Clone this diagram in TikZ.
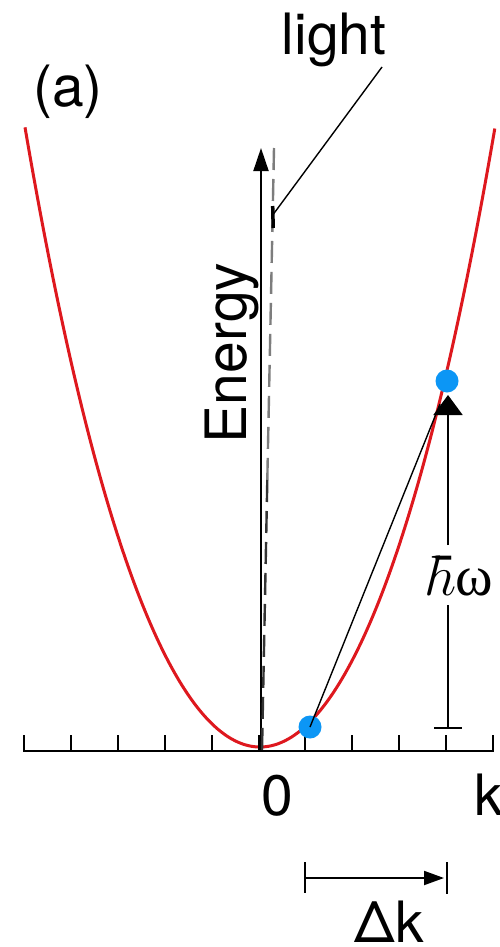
\RequirePackage{fix-cm}
\documentclass[tikz,border=0pt]{standalone}
\usepackage{fontspec}
\setmainfont{TeX Gyre Heros}
\newfontfamily\greekserif{Liberation Serif}
\usetikzlibrary{arrows.meta,calc}
\definecolor{curvered}{RGB}{222,24,30}
\definecolor{dotblue}{RGB}{12,150,245}
\definecolor{lightgray}{RGB}{125,125,125}
\begin{document}
\begin{tikzpicture}[x=1pt,y=-1pt,
  lbl/.style={inner sep=0pt, font=\fontsize{57}{60}\selectfont},
  axisline/.style={line width=2pt},
  thinline/.style={line width=1.4pt},
  lightdash/.style={line width=2.4pt, dash pattern=on 22pt off 9pt},
  dotstyle/.style={circle, fill=dotblue, minimum size=23pt, inner sep=0pt}]
\useasboundingbox (0,0) rectangle (500,947);
\fill[white] (0,0) rectangle (500,947);
% dispersion curve
\draw[curvered, line width=3pt, line join=round]
  plot[domain=-2.35:2.35, samples=140, smooth]
  ({260+100*\x}, {747-100*(\x)*(\x)-2.21*(\x)*(\x)*(\x)*(\x)});
% k axis with ticks
\coordinate (xl) at (23,751);
\coordinate (xr) at (494,751);
\draw[axisline] (xl) -- (xr);
\foreach \i in {0,...,10}
  \draw[axisline] ({24+46.9*\i},751) -- ++(0,-16);
% energy axis
\coordinate (o) at (261,751);
\coordinate (etop) at (261,148);
\draw[axisline, -{Triangle[length=23pt,width=15pt]}] (o) -- (etop);
% light line
\coordinate (lb) at (262,751);
\coordinate (lmid) at (267.3,480);
\coordinate (lt) at (274,148);
\draw[lightgray, lightdash] (lt) -- (lmid);
\draw[black!80, lightdash] (lmid) -- (lb);
\coordinate (lm1) at (272.7,206);
\coordinate (lm2) at (273.2,228);
\draw[line width=3.5pt] (lm1) -- (lm2);
\coordinate (lead) at (273.5,214);
\node[lbl] (light) at (334,40) {light};
\coordinate (leadtop) at (382,67);
\draw[thinline] (leadtop) -- (lead);
% labels
\node[lbl] (lab) at (68,92) {(a)};
\node[lbl, rotate=90, anchor=base] (energy) at (246,353) {Energy};
\node[lbl, anchor=base] (zero) at (277.5,815) {0};
\node[lbl, anchor=base west] (kk) at (474,815) {k};
% transition
\node[dotstyle] (d1) at (310,727) {};
\node[dotstyle] (d2) at (447,381) {};
\coordinate (hwbase) at (448,728);
\coordinate (hwtip) at (448,395);
\node[lbl, anchor=base west] (hw) at (434,595) {$\hbar$\kern-1pt{\greekserif ω}};
\draw[axisline] ($(hwbase)+(-14,0)$) -- ($(hwbase)+(14,0)$);
\draw[axisline] (hwbase) -- (hwbase |- 0,605);
\draw[axisline, -{Triangle[length=20pt,width=29pt]}] (hwbase |- 0,545) -- (hwtip);
\coordinate (diagend) at (440,404);
\draw[thinline] (d1.center) -- (diagend);
% delta k
\coordinate (dkl) at (305,878);
\coordinate (dkr) at (447,878);
\draw[axisline] ($(dkl)+(0,-16)$) -- ($(dkl)+(0,15)$);
\draw[axisline] ($(dkr)+(0,-16)$) -- ($(dkr)+(0,16)$);
\draw[axisline, -{Triangle[length=20pt,width=14pt]}] (dkl) -- ($(dkr)+(-3,0)$);
\node[lbl, anchor=base] (dk) at (389,942) {Δk};
\end{tikzpicture}
\end{document}
